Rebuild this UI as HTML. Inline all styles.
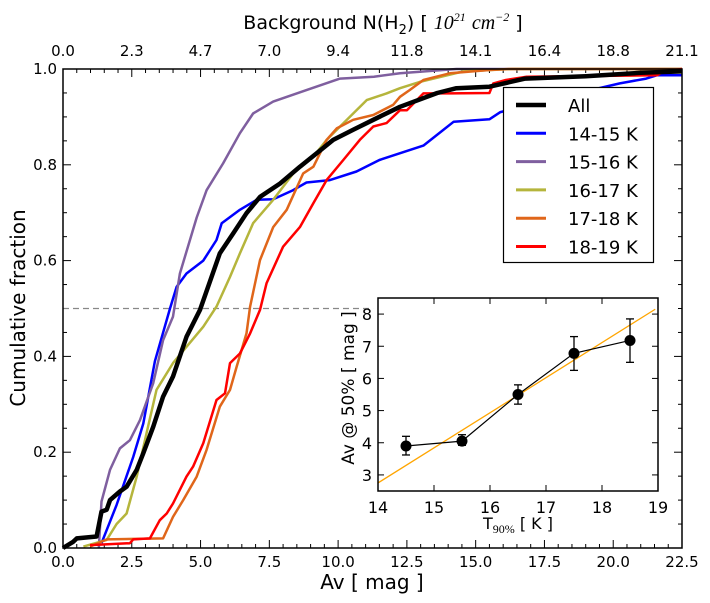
<!DOCTYPE html>
<html><head><meta charset="utf-8"><style>
body{margin:0;background:#fff;}
svg{display:block;font-family:"DejaVu Sans","Liberation Sans",sans-serif;}
</style></head><body>
<svg id="c" width="710" height="603" viewBox="0 0 710 603"></svg>
<script>
const xTickLabels=["0.0","2.5","5.0","7.5","10.0","12.5","15.0","17.5","20.0","22.5"];
const topTickLabels=["0.0","2.3","4.7","7.0","9.4","11.8","14.1","16.4","18.8","21.1"];
const yTickLabels=["0.0","0.2","0.4","0.6","0.8","1.0"];
const seriesNames=["All","14-15 K","15-16 K","16-17 K","17-18 K","18-19 K"];
const allAv=[0,0.37,0.5,1.22,1.4,1.59,1.71,2.07,2.31,2.68,2.92,3.28,3.64,4.0,4.49,4.98,5.7,6.19,6.67,7.16,7.89,8.61,9.22,9.82,10.55,11.28,12.25,13.6,14.3,15.5,16.8,19,21,22.5];
const allF=[0,0.013,0.02,0.024,0.076,0.08,0.1,0.118,0.128,0.163,0.198,0.253,0.316,0.358,0.441,0.497,0.615,0.657,0.699,0.733,0.761,0.796,0.824,0.852,0.873,0.894,0.921,0.95,0.96,0.963,0.98,0.985,0.992,0.995];
const b1Av=[1.4,1.95,2.55,2.92,3.34,3.89,4.13,4.49,5.1,5.58,5.77,6.43,7.04,7.64,8.36,8.85,9.7,10.67,11.5,13.1,14.2,15.5,15.9,18,20.24,21.2,21.6,22.5];
const b1F=[0.01,0.09,0.19,0.26,0.39,0.5,0.545,0.573,0.6,0.643,0.678,0.706,0.727,0.728,0.747,0.763,0.768,0.786,0.81,0.84,0.89,0.895,0.91,0.94,0.97,0.98,0.987,0.987];
const b2Av=[1.3,1.4,1.71,2.07,2.43,2.8,3.28,3.64,4.0,4.25,4.86,5.22,5.82,6.43,6.91,7.64,8.85,10.07,11.3,12.25,14.3,22.5];
const b2F=[0.0,0.097,0.163,0.208,0.225,0.267,0.344,0.434,0.483,0.573,0.69,0.747,0.803,0.866,0.907,0.932,0.956,0.98,0.984,0.991,1.0,1.0];
const b3Av=[0.74,1.59,1.95,2.31,2.68,3.04,3.4,4.0,4.49,5.1,5.58,6.07,6.43,6.91,7.64,8.37,9.1,9.58,10.55,11.04,11.76,12.25,12.97,14.55,16.35,22.5];
const b3F=[0.003,0.017,0.05,0.072,0.149,0.24,0.33,0.386,0.42,0.462,0.504,0.566,0.615,0.678,0.727,0.782,0.817,0.852,0.907,0.935,0.949,0.96,0.973,0.995,1.0,1.0];
const b4Av=[0.98,1.59,3.64,4.0,4.37,4.86,5.22,5.7,6.07,6.31,6.67,6.8,7.16,7.64,8.13,8.73,9.1,9.58,9.95,10.55,11.28,12.0,12.25,12.6,13.1,14.06,15.5,16.2,22.5];
const b4F=[0.003,0.018,0.02,0.065,0.1,0.149,0.205,0.295,0.33,0.378,0.448,0.504,0.601,0.67,0.706,0.782,0.796,0.852,0.876,0.894,0.904,0.925,0.942,0.956,0.977,0.991,0.998,1.0,1.0];
const b5Av=[0.98,2.43,2.55,3.16,3.52,3.77,4.0,4.49,4.73,5.1,5.58,5.89,6.07,6.43,6.8,7.16,7.4,8.0,8.61,9.1,9.58,10.19,10.79,11.28,11.76,12.25,12.5,13.1,14.06,15.5,15.64,16.1,16.85,21.6,21.8,22.2,22.5];
const b5F=[0.006,0.01,0.018,0.02,0.058,0.072,0.093,0.149,0.17,0.219,0.309,0.323,0.386,0.406,0.448,0.497,0.553,0.629,0.67,0.72,0.768,0.81,0.852,0.88,0.887,0.914,0.914,0.949,0.949,0.95,0.97,0.977,0.984,0.987,0.994,0.998,1.0];
const insetT=[14.5,15.5,16.5,17.5,18.5];
const insetAv=[3.9,4.05,5.5,6.78,7.18];
const insetLo=[3.62,3.92,5.2,6.25,6.5];
const insetHi=[4.2,4.25,5.8,7.3,7.85];
const fitT=[14.0,18.95];
const fitAv=[2.75,8.15];
const insetXTicks=["14","15","16","17","18","19"];
const insetYTicks=["3","4","5","6","7","8"];

const NS="http://www.w3.org/2000/svg";
const svg=document.getElementById('c');
function mk(tag,attrs,parent){const e=document.createElementNS(NS,tag);for(const k in attrs)e.setAttribute(k,attrs[k]);(parent||svg).appendChild(e);return e;}
const L=63,R=682,T=69,B=548;
const X=v=>L+v/22.5*(R-L);
const Y=f=>B-f*(B-T);

for(let v=0;v<=22.5001;v+=0.5){const maj=Math.abs(v/2.5-Math.round(v/2.5))<1e-6;const len=maj?8:4;
 let t=mk('line',{x1:X(v),x2:X(v),y1:B,y2:B-len,stroke:'#000','stroke-width':1});
 
 t=mk('line',{x1:X(v),x2:X(v),y1:T,y2:T+len,stroke:'#000','stroke-width':1});
 }
for(let f=0;f<=1.0001;f+=0.05){const maj=Math.abs(f/0.2-Math.round(f/0.2))<1e-6;const len=maj?8:4;
 let t=mk('line',{x1:L,x2:L+len,y1:Y(f),y2:Y(f),stroke:'#000','stroke-width':1});
 
 t=mk('line',{x1:R,x2:R-len,y1:Y(f),y2:Y(f),stroke:'#000','stroke-width':1});
 }
xTickLabels.forEach((s,i)=>{const t=mk('text',{x:X(i*2.5),y:567,'font-size':15,'text-anchor':'middle'});t.textContent=s;
 });
topTickLabels.forEach((s,i)=>{const t=mk('text',{x:X(i*2.5),y:56,'font-size':15,'text-anchor':'middle'});t.textContent=s;
 });
yTickLabels.forEach((s,i)=>{const t=mk('text',{x:57,y:Y(i*0.2)+5,'font-size':15,'text-anchor':'end'});t.textContent=s;
 });

let d=mk('line',{x1:X(0),x2:X(11.27),y1:Y(0.5),y2:Y(0.5),stroke:'#888','stroke-width':1.2,'stroke-dasharray':'6,4'});


const colors=['#000','#0000ff','#7f5f9f','#b5b53c','#e0661a','#ff0000'];
const widths=[4.5,2.5,2.5,2.5,2.5,2.5];
const sx=[allAv,b1Av,b2Av,b3Av,b4Av,b5Av],sy=[allF,b1F,b2F,b3F,b4F,b5F];
const order=[1,2,3,4,5,0];
order.forEach(i=>{const pts=sx[i].map((v,j)=>X(v).toFixed(1)+','+Y(sy[i][j]).toFixed(1)).join(' ');
 const p=mk('polyline',{points:pts,fill:'none',stroke:colors[i],'stroke-width':widths[i],'stroke-linejoin':'round'});
 });

let fr=mk('rect',{x:L,y:T,width:R-L,height:B-T,fill:'none',stroke:'#000','stroke-width':1.5});


const lg=mk('g',{});
mk('rect',{x:503.5,y:87.5,width:150,height:175,fill:'#fff',stroke:'#000','stroke-width':1.2},lg);
seriesNames.forEach((n,i)=>{const y=105+i*28.3;
 const e=mk('g',{},lg);
 mk('line',{x1:516,x2:546,y1:y,y2:y,stroke:colors[i],'stroke-width':i?3:4.5},e);
 const t=mk('text',{x:568,y:y+7,'font-size':18},e);t.textContent=n;});

let t=mk('text',{x:372,y:589,'font-size':20,'text-anchor':'middle'});t.textContent='Av [ mag ]';

t=mk('text',{x:0,y:0,'font-size':20,'text-anchor':'middle',transform:'translate(25,308) rotate(-90)'});t.textContent='Cumulative fraction';

t=mk('text',{x:383,y:29,'font-size':19,'text-anchor':'middle'});
t.innerHTML='Background N(H<tspan font-size="13" dy="5">2</tspan><tspan dy="-5">)  [ </tspan><tspan font-family="Liberation Serif" font-style="italic" font-size="20">10</tspan><tspan font-size="12" dy="-8" font-family="Liberation Serif" font-style="italic">21</tspan><tspan dy="8">  </tspan><tspan font-family="Liberation Serif" font-style="italic" font-size="20">cm</tspan><tspan font-size="12" dy="-8" font-family="Liberation Serif" font-style="italic">−2</tspan><tspan dy="8">   ]</tspan>';


const iL=378,iR=658,iT=298,iB=491;
const IX=v=>iL+(v-14)/5*(iR-iL);
const IY=v=>iB-(v-2.5)/6*(iB-iT);
const ig=mk('g',{});
mk('rect',{x:iL,y:iT,width:iR-iL,height:iB-iT,fill:'#fff',stroke:'none'},ig);
insetXTicks.forEach(s=>{const v=+s;mk('line',{x1:IX(v),x2:IX(v),y1:iB,y2:iB-6,stroke:'#000'},ig);mk('line',{x1:IX(v),x2:IX(v),y1:iT,y2:iT+6,stroke:'#000'},ig);
 const tt=mk('text',{x:IX(v),y:iB+22,'font-size':16,'text-anchor':'middle'},ig);tt.textContent=s;
 });
insetYTicks.forEach(s=>{const v=+s;mk('line',{x1:iL,x2:iL+6,y1:IY(v),y2:IY(v),stroke:'#000'},ig);mk('line',{x1:iR,x2:iR-6,y1:IY(v),y2:IY(v),stroke:'#000'},ig);
 const tt=mk('text',{x:iL-6,y:IY(v)+6,'font-size':16,'text-anchor':'end'},ig);tt.textContent=s;
 });
let fl=mk('line',{x1:IX(fitT[0]),y1:IY(fitAv[0]),x2:IX(fitT[1]),y2:IY(fitAv[1]),stroke:'#ffa500','stroke-width':1.3},ig);

let pl=mk('polyline',{points:insetT.map((v,i)=>IX(v)+','+IY(insetAv[i])).join(' '),fill:'none',stroke:'#000','stroke-width':1.2},ig);

insetT.forEach((v,i)=>{const g=mk('g',{},ig);
 mk('line',{x1:IX(v),x2:IX(v),y1:IY(insetLo[i]),y2:IY(insetHi[i]),stroke:'#000','stroke-width':1.3},g);
 mk('line',{x1:IX(v)-4,x2:IX(v)+4,y1:IY(insetLo[i]),y2:IY(insetLo[i]),stroke:'#000','stroke-width':1.3},g);
 mk('line',{x1:IX(v)-4,x2:IX(v)+4,y1:IY(insetHi[i]),y2:IY(insetHi[i]),stroke:'#000','stroke-width':1.3},g);
 mk('circle',{cx:IX(v),cy:IY(insetAv[i]),r:5.5,fill:'#000'},g);});
mk('rect',{x:iL,y:iT,width:iR-iL,height:iB-iT,fill:'none',stroke:'#000','stroke-width':1.5},ig);
t=mk('text',{x:0,y:0,'font-size':17,'text-anchor':'middle',transform:'translate(354,388) rotate(-90)'},ig);t.textContent='Av @ 50% [ mag ]';

t=mk('text',{x:518,y:529,'font-size':16,'text-anchor':'middle'},ig);
t.innerHTML='T<tspan font-size="12" dy="4" font-family="Liberation Serif">90%</tspan><tspan dy="-4"> [ K ]</tspan>';

</script>
</body></html>
